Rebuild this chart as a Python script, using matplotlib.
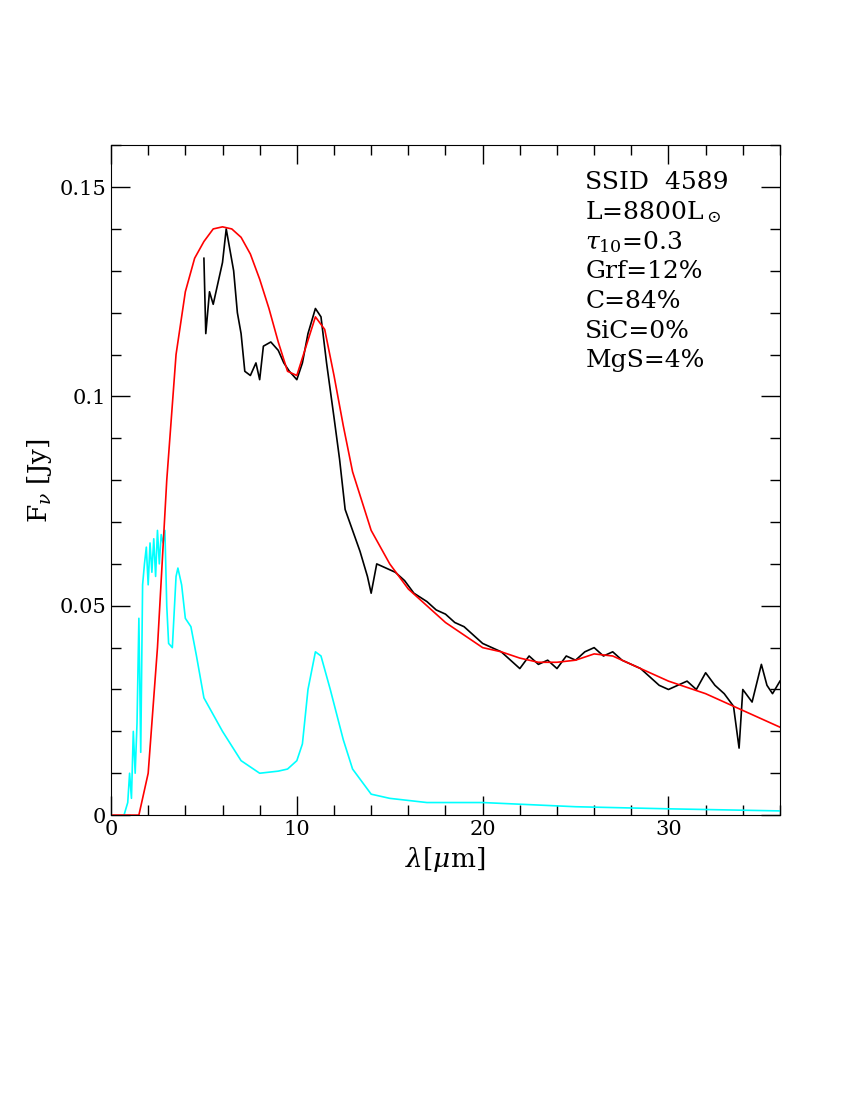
import matplotlib
matplotlib.use("Agg")
import matplotlib.pyplot as plt
from matplotlib.ticker import MultipleLocator, FixedFormatter, FixedLocator

plt.rcParams['font.family'] = 'DejaVu Serif'
plt.rcParams['mathtext.fontset'] = 'dejavuserif'

# observed spectrum (black)
obs_x = [5.0, 5.1, 5.3, 5.5, 5.8, 6.0, 6.2, 6.4, 6.6, 6.8, 7.0, 7.2, 7.5, 7.8, 8.0, 8.2, 8.6, 9.0,
         9.3, 9.6, 10.0, 10.3, 10.6, 11.0, 11.3, 11.6, 12.0, 12.3, 12.6, 13.0, 13.4, 13.8, 14.0, 14.3,
         14.8, 15.3, 15.8, 16.3, 17.0, 17.5, 18.0, 18.5, 19.0, 19.5, 20.0, 20.5, 21.0, 21.5, 22.0,
         22.5, 23.0, 23.5, 24.0, 24.5, 25.0, 25.5, 26.0, 26.5, 27.0, 27.5, 28.0, 28.5, 29.0, 29.5,
         30.0, 30.5, 31.0, 31.5, 32.0, 32.5, 33.0, 33.5, 33.8, 34.0, 34.5, 35.0, 35.3, 35.6, 36.0]
obs_f = [0.133, 0.115, 0.125, 0.122, 0.128, 0.132, 0.140, 0.135, 0.130, 0.120, 0.115, 0.106, 0.105,
         0.108, 0.104, 0.112, 0.113, 0.111, 0.108, 0.106, 0.104, 0.108, 0.115, 0.121, 0.119, 0.108,
         0.095, 0.085, 0.073, 0.068, 0.063, 0.057, 0.053, 0.060, 0.059, 0.058, 0.056, 0.053, 0.051,
         0.049, 0.048, 0.046, 0.045, 0.043, 0.041, 0.040, 0.039, 0.037, 0.035, 0.038, 0.036, 0.037,
         0.035, 0.038, 0.037, 0.039, 0.040, 0.038, 0.039, 0.037, 0.036, 0.035, 0.033, 0.031, 0.030,
         0.031, 0.032, 0.030, 0.034, 0.031, 0.029, 0.026, 0.016, 0.030, 0.027, 0.036, 0.031, 0.029, 0.032]

# model (red)
mod_x = [0, 1.5, 2, 2.5, 3, 3.5, 4, 4.5, 5, 5.5, 6, 6.5, 7, 7.5, 8, 8.5, 9, 9.5, 10, 10.5, 11, 11.5,
         12, 12.5, 13, 14, 15, 16, 17, 18, 19, 20, 21, 22, 23, 24, 25, 26, 27, 28, 29, 30, 32, 34, 36]
mod_f = [0, 0, 0.01, 0.04, 0.08, 0.11, 0.125, 0.133, 0.137, 0.140, 0.1405, 0.140, 0.138, 0.134,
         0.128, 0.121, 0.113, 0.106, 0.105, 0.112, 0.119, 0.116, 0.105, 0.093, 0.082, 0.068, 0.060,
         0.054, 0.050, 0.046, 0.043, 0.040, 0.039, 0.0375, 0.0365, 0.0365, 0.037, 0.0385, 0.038,
         0.036, 0.034, 0.032, 0.029, 0.025, 0.021]

# stellar photosphere (cyan)
star_x = [0.7, 0.9, 1.0, 1.1, 1.2, 1.3, 1.4, 1.5, 1.6, 1.7, 1.8, 1.9, 2.0, 2.1, 2.2, 2.3, 2.4, 2.5,
          2.6, 2.7, 2.8, 2.9, 3.0, 3.1, 3.3, 3.5, 3.6, 3.8, 4.0, 4.3, 4.6, 5.0, 5.5, 6, 7, 8, 9, 9.5,
          10, 10.3, 10.6, 11, 11.3, 11.8, 12.5, 13, 13.5, 14, 15, 17, 20, 25, 30, 36]
star_f = [0, 0.003, 0.010, 0.004, 0.020, 0.010, 0.022, 0.047, 0.015, 0.055, 0.060, 0.064, 0.055,
          0.065, 0.058, 0.066, 0.057, 0.068, 0.060, 0.067, 0.065, 0.068, 0.050, 0.041, 0.040, 0.057,
          0.059, 0.055, 0.047, 0.045, 0.038, 0.028, 0.024, 0.020, 0.013, 0.010, 0.0105, 0.011, 0.013,
          0.017, 0.030, 0.039, 0.038, 0.030, 0.018, 0.011, 0.008, 0.005, 0.004, 0.003, 0.003, 0.002,
          0.0015, 0.001]

labels = ["SSID  4589", r"L=8800L$_\odot$", r"$\tau_{10}$=0.3", "Grf=12%", "C=84%", "SiC=0%", "MgS=4%"]

fig = plt.figure(figsize=(8.5, 11), dpi=100)
ax = fig.add_axes([0.1306, 0.259, 0.787, 0.609])
ax.plot(star_x, star_f, color='cyan', lw=1.2)
ax.plot(obs_x, obs_f, color='black', lw=1.2)
ax.plot(mod_x, mod_f, color='red', lw=1.2)

ax.set_xlim(0, 36)
ax.set_ylim(0, 0.16)
ax.xaxis.set_major_locator(MultipleLocator(10))
ax.xaxis.set_minor_locator(MultipleLocator(2))
ax.yaxis.set_major_locator(FixedLocator([0, 0.05, 0.1, 0.15]))
ax.yaxis.set_major_formatter(FixedFormatter(["0", "0.05", "0.1", "0.15"]))
ax.yaxis.set_minor_locator(MultipleLocator(0.01))
ax.tick_params(which='both', direction='in', top=True, right=True, labelsize=15)
ax.tick_params(which='major', length=14, width=1)
ax.tick_params(which='minor', length=7, width=1)
ax.set_xlabel(r"$\lambda$[$\mu$m]", fontsize=19)
ax.set_ylabel(r"F$_\nu$ [Jy]", fontsize=19)

for i, s in enumerate(labels):
    ax.text(0.709, 0.945 - i * 0.0445, s, transform=ax.transAxes, fontsize=18, va='center')

fig.savefig("out.png", dpi=100)
